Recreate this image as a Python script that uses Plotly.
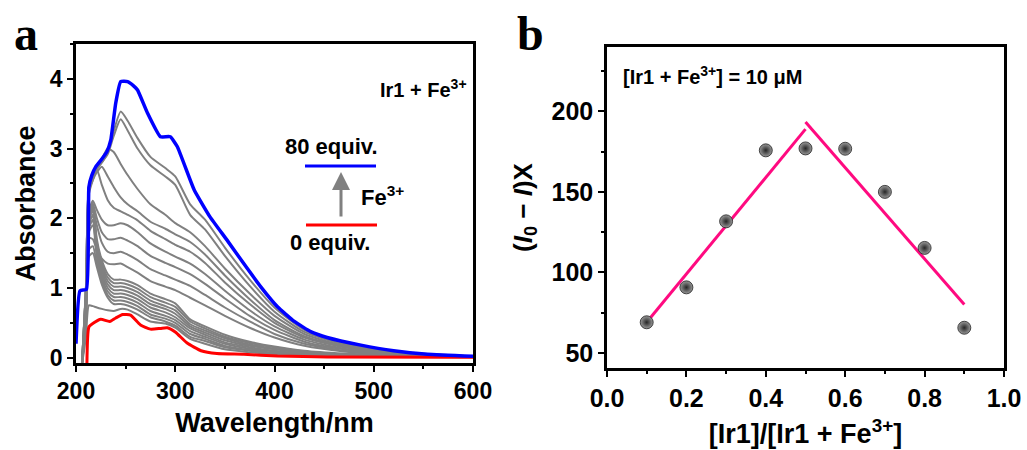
import plotly.graph_objects as go

# ---------------- Panel a data ----------------
wl_grid = [206, 210, 213, 217, 221, 226, 232, 238, 245, 252, 262, 275, 290, 300,
           315, 330, 350, 375, 400, 430, 470, 520, 600]

gray_1 = [-0.08, 1.0, 2.45, 2.62, 2.72, 2.8, 2.95, 3.25, 3.53, 3.4, 3.15, 2.88, 2.72, 2.6, 2.2, 1.98, 1.58, 1.12, 0.72, 0.4, 0.21, 0.09, 0.02]
gray_2 = [-0.08, 1.0, 2.45, 2.6, 2.7, 2.8, 2.92, 3.18, 3.42, 3.26, 3.0, 2.76, 2.6, 2.48, 2.05, 1.84, 1.46, 1.03, 0.66, 0.37, 0.19, 0.08, 0.02]
gray_3 = [-0.08, 1.0, 2.45, 2.6, 2.72, 2.85, 3.0, 2.95, 2.78, 2.62, 2.42, 2.2, 2.05, 1.93, 1.8, 1.6, 1.28, 0.92, 0.6, 0.34, 0.17, 0.08, 0.02]
gray_4 = [-0.08, 1.0, 2.4, 2.55, 2.66, 2.74, 2.6, 2.45, 2.3, 2.2, 2.1, 1.95, 1.85, 1.77, 1.66, 1.48, 1.18, 0.84, 0.54, 0.31, 0.16, 0.07, 0.02]
gray_5 = [-0.08, 1.0, 2.35, 2.55, 2.7, 2.48, 2.26, 2.15, 2.1, 2.05, 1.97, 1.82, 1.7, 1.62, 1.52, 1.36, 1.08, 0.77, 0.5, 0.29, 0.15, 0.07, 0.02]
gray_6 = [-0.1, 0.8, 2.1, 2.25, 2.12, 1.98, 1.9, 1.9, 1.93, 1.9, 1.8, 1.64, 1.52, 1.45, 1.35, 1.2, 0.96, 0.68, 0.45, 0.26, 0.13, 0.06, 0.02]
gray_7 = [-0.1, 0.8, 2.05, 2.2, 2.0, 1.8, 1.7, 1.7, 1.72, 1.68, 1.6, 1.46, 1.36, 1.3, 1.2, 1.06, 0.85, 0.6, 0.4, 0.23, 0.12, 0.05, 0.02]
gray_8 = [-0.1, 0.8, 2.0, 2.12, 1.9, 1.65, 1.52, 1.5, 1.52, 1.48, 1.4, 1.27, 1.18, 1.12, 1.03, 0.9, 0.72, 0.52, 0.34, 0.2, 0.1, 0.05, 0.02]
gray_9 = [-0.1, 0.7, 1.72, 1.7, 1.55, 1.42, 1.35, 1.34, 1.35, 1.3, 1.22, 1.1, 1.02, 0.97, 0.86, 0.75, 0.6, 0.43, 0.29, 0.17, 0.09, 0.04, 0.01]
gray_10 = [-0.1, 0.7, 2.0, 2.22, 1.7, 1.4, 1.2, 1.12, 1.12, 1.1, 1.04, 0.92, 0.84, 0.78, 0.55, 0.45, 0.33, 0.23, 0.16, 0.1, 0.06, 0.03, 0.01]
gray_11 = [-0.1, 0.7, 1.98, 2.18, 1.65, 1.35, 1.15, 1.07, 1.07, 1.05, 0.99, 0.87, 0.79, 0.73, 0.52, 0.42, 0.3, 0.21, 0.15, 0.09, 0.05, 0.03, 0.01]
gray_12 = [-0.1, 0.7, 1.95, 2.12, 1.6, 1.3, 1.1, 1.02, 1.02, 1.0, 0.94, 0.82, 0.74, 0.68, 0.48, 0.39, 0.28, 0.19, 0.13, 0.08, 0.05, 0.02, 0.01]
gray_13 = [-0.1, 0.6, 1.9, 2.05, 1.55, 1.25, 1.05, 0.97, 0.97, 0.95, 0.89, 0.77, 0.7, 0.63, 0.45, 0.36, 0.25, 0.17, 0.12, 0.07, 0.04, 0.02, 0.01]
gray_14 = [-0.1, 0.6, 1.85, 1.98, 1.5, 1.2, 1.0, 0.92, 0.92, 0.9, 0.84, 0.72, 0.65, 0.58, 0.42, 0.33, 0.22, 0.15, 0.1, 0.06, 0.04, 0.02, 0.01]
gray_15 = [-0.1, 0.6, 1.8, 1.9, 1.45, 1.15, 0.95, 0.87, 0.87, 0.85, 0.79, 0.67, 0.6, 0.54, 0.38, 0.3, 0.2, 0.13, 0.09, 0.05, 0.03, 0.02, 0.01]
gray_16 = [-0.1, 0.5, 1.55, 1.6, 1.35, 1.1, 0.9, 0.82, 0.82, 0.8, 0.74, 0.62, 0.56, 0.5, 0.34, 0.27, 0.17, 0.11, 0.07, 0.04, 0.03, 0.01, 0.01]
gray_17 = [-0.1, 0.5, 1.45, 1.5, 1.3, 1.05, 0.86, 0.77, 0.77, 0.75, 0.69, 0.58, 0.52, 0.46, 0.3, 0.24, 0.15, 0.1, 0.06, 0.04, 0.02, 0.01, 0.01]
gray_18 = [-0.1, 0.3, 0.75, 0.74, 0.72, 0.7, 0.68, 0.67, 0.7, 0.69, 0.62, 0.52, 0.49, 0.43, 0.27, 0.2, 0.12, 0.08, 0.05, 0.03, 0.02, 0.01, 0.005]

gray_curves = [gray_1, gray_2, gray_3, gray_4, gray_5, gray_6, gray_7, gray_8, gray_9,
               gray_10, gray_11, gray_12, gray_13, gray_14, gray_15, gray_16, gray_17, gray_18]

red_wl = [211, 213, 218, 225, 234, 240, 247, 255, 265, 275, 285, 292, 300, 312, 326, 342, 369, 403, 453, 600]
red_abs = [-0.1, 0.44, 0.5, 0.55, 0.52, 0.57, 0.62, 0.61, 0.47, 0.41, 0.42, 0.43, 0.37, 0.21, 0.1, 0.06, 0.05, 0.024, 0.01, 0.005]

blue_wl = [200, 204, 210.5, 213, 216, 220, 226, 231, 235, 240, 245, 252, 258, 262, 272, 285, 295, 302,
           319, 335, 352, 369, 386, 403, 420, 437, 453, 487, 520, 554, 600]
blue_abs = [0.2, 0.96, 0.98, 2.45, 2.62, 2.74, 2.85, 2.95, 3.12, 3.65, 3.96, 3.96, 3.9, 3.84, 3.51, 3.17, 3.17, 3.03,
            2.41, 2.02, 1.69, 1.35, 1.02, 0.73, 0.52, 0.37, 0.29, 0.18, 0.10, 0.05, 0.02]

# ---------------- Panel b data ----------------
ratio = [0.1, 0.2, 0.3, 0.4, 0.5, 0.6, 0.7, 0.8, 0.9]
job_y = [69, 90.7, 131.7, 175.8, 177, 176.8, 150, 115.2, 65.6]
fit_left_x = [0.1, 0.5]
fit_left_y = [69, 189]
fit_right_x = [0.5, 0.9]
fit_right_y = [193.4, 80]

FONT = "Arial, Liberation Sans, sans-serif"
SERIF = "Liberation Serif, Times New Roman, serif"

fig = go.Figure()

for g in gray_curves:
    fig.add_trace(go.Scatter(x=wl_grid, y=g, mode="lines", line=dict(color="#808080", width=2, shape="spline", smoothing=0.6),
                             xaxis="x", yaxis="y", showlegend=False, hoverinfo="skip"))
fig.add_trace(go.Scatter(x=red_wl, y=red_abs, mode="lines", line=dict(color="#ff0000", width=3, shape="spline", smoothing=0.5),
                         xaxis="x", yaxis="y", showlegend=False))
fig.add_trace(go.Scatter(x=blue_wl, y=blue_abs, mode="lines", line=dict(color="#0000ff", width=3.5, shape="spline", smoothing=0.4),
                         xaxis="x", yaxis="y", showlegend=False))

fig.add_trace(go.Scatter(x=fit_left_x, y=fit_left_y, mode="lines", line=dict(color="#ff0a80", width=3),
                         xaxis="x2", yaxis="y2", showlegend=False))
fig.add_trace(go.Scatter(x=fit_right_x, y=fit_right_y, mode="lines", line=dict(color="#ff0a80", width=3),
                         xaxis="x2", yaxis="y2", showlegend=False))
fig.add_trace(go.Scatter(x=ratio, y=job_y, mode="markers",
                         marker=dict(size=13, color="#9a9a9a", line=dict(color="#222222", width=0.8),
                                     gradient=dict(type="radial", color="#262626")),
                         xaxis="x2", yaxis="y2", showlegend=False))

W, H = 1027, 450
def px(x):
    return x / W
def py(y):
    return 1 - y / H

A_L, A_R, A_T, A_B = 76, 473, 44, 363
B_L, B_R, B_T, B_B = 607, 1004, 47, 368

def axis_style(tick_size):
    return dict(showline=True, linecolor="#000000", linewidth=2.5, mirror=True, automargin=False,
                ticks="outside", ticklen=6, tickwidth=2, tickcolor="#000000",
                showgrid=False, zeroline=False, layer="above traces",
                tickfont=dict(family=FONT, size=tick_size, color="black", weight="bold"))

def minor(d):
    return dict(dtick=d, ticklen=3, tickwidth=2, tickcolor="#000000", ticks="outside")

title_font = dict(family=FONT, size=27, color="black", weight="bold")

fig.update_layout(
    width=W, height=H, margin=dict(l=0, r=0, t=0, b=0),
    plot_bgcolor="white", paper_bgcolor="white",
    xaxis=dict(domain=[px(A_L), px(A_R)], range=[200, 600], dtick=100, anchor="y", minor=minor(50),
               title=dict(text="Wavelength/nm", standoff=10, font=title_font), **axis_style(23)),
    yaxis=dict(domain=[py(A_B), py(A_T)], range=[-0.076, 4.5], dtick=1, anchor="x", minor=minor(0.5),
               title=dict(text="Absorbance", standoff=7, font=title_font), **axis_style(23)),
    xaxis2=dict(domain=[px(B_L), px(B_R)], range=[0, 1.0], dtick=0.2, tickformat=".1f", anchor="y2", minor=minor(0.1),
                title=dict(text="[Ir1]/[Ir1 + Fe<sup>3+</sup>]", standoff=14, font=title_font), **axis_style(25)),
    yaxis2=dict(domain=[py(B_B), py(B_T)], range=[40.6, 240], tick0=50, dtick=50, anchor="x2", minor=minor(25),
                title=dict(text="(<i>I</i><sub>0</sub> − <i>I</i>)X", standoff=12,
                           font=dict(family=FONT, size=26, color="black", weight="bold")), **axis_style(25)),
)

ann_font = dict(family=FONT, size=22, color="black", weight="bold")
def note(text, x, y, xanchor="center", font=ann_font):
    return dict(text=text, x=px(x), y=py(y), xref="paper", yref="paper", showarrow=False,
                xanchor=xanchor, yanchor="middle", font=font)

annotations = [
    note("a", 26, 33, font=dict(family=SERIF, size=48, color="black", weight="bold")),
    note("b", 530, 33, font=dict(family=SERIF, size=48, color="black", weight="bold")),
    note("Ir1 + Fe<sup>3+</sup>", 469, 88, xanchor="right", font=dict(family=FONT, size=20, color="black", weight="bold")),
    note("80 equiv.", 331, 146),
    note("0 equiv.", 330, 242),
    note("Fe<sup>3+</sup>", 359, 196, xanchor="left"),
    dict(text="", x=px(341), y=py(172), xref="paper", yref="paper", showarrow=True,
         ax=0, ay=46, axref="pixel", ayref="pixel", arrowhead=2, arrowsize=1.2, arrowwidth=3, arrowcolor="#808080"),
    note("[Ir1 + Fe<sup>3+</sup>] = 10 μM", 621, 76, xanchor="left",
         font=dict(family=FONT, size=20, color="black", weight="bold")),
]
fig.update_layout(annotations=annotations)

fig.update_layout(shapes=[
    dict(type="line", xref="paper", yref="paper", x0=px(305), x1=px(376), y0=py(166), y1=py(166),
         line=dict(color="#0000ff", width=3)),
    dict(type="line", xref="paper", yref="paper", x0=px(306), x1=px(377), y0=py(225), y1=py(225),
         line=dict(color="#ff0000", width=3)),
])

fig.write_html("out.html")
